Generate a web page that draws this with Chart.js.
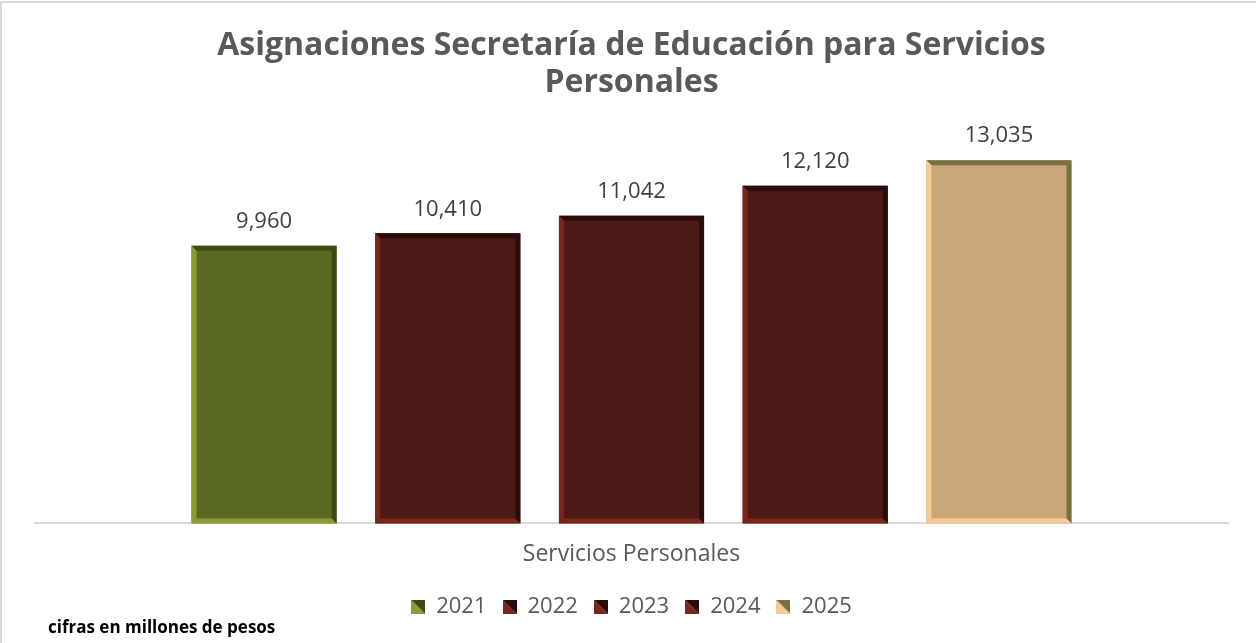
<!DOCTYPE html>
<html>
<head>
<meta charset="utf-8">
<script src="https://cdn.jsdelivr.net/npm/chart.js@4"></script>
<style>
    html, body { margin: 0; padding: 0; background: #fff; }
    #chart1 { display: block; }
</style>
</head>
<body>
<canvas id="chart1" width="1256" height="643"></canvas>
<script>

// Datos
const categories = ['Servicios Personales']
const years = ['2021', '2022', '2023', '2024', '2025']
const values = [9960, 10410, 11042, 12120, 13035]

// Colores (cara, borde claro, borde oscuro)
const faceColors = ['#5a6a25', '#4b1a16', '#4b1a16', '#4b1a16', '#c9a779']
const lightColors = ['#8c9a32', '#7c2519', '#7c2519', '#7c2519', '#f7c994']
const darkColors = ['#3a4c16', '#2a0c0a', '#2a0c0a', '#2a0c0a', '#7a703f']


// Cuadrito de la leyenda partido en diagonal
const makeSwatch = i => {
    const c = document.createElement('canvas')
    c.width = 14
    c.height = 14
    const ctx = c.getContext('2d')
    ctx.fillStyle = lightColors[i]
    ctx.beginPath()
    ctx.moveTo(0, 0); ctx.lineTo(14, 14); ctx.lineTo(0, 14); ctx.closePath()
    ctx.fill()
    ctx.fillStyle = darkColors[i]
    ctx.beginPath()
    ctx.moveTo(0, 0); ctx.lineTo(14, 0); ctx.lineTo(14, 14); ctx.closePath()
    ctx.fill()
    return c
}


// Bisel de cada barra
const bevelPlugin = {
    id: 'bevel',
    afterDatasetsDraw(chart) {
        const ctx = chart.ctx
        const t = 5
        chart.data.datasets.forEach((ds, i) => {
            chart.getDatasetMeta(i).data.forEach(bar => {
                const { x, y, base, width } = bar.getProps(['x', 'y', 'base', 'width'], true)
                const l = x - width / 2, r = x + width / 2
                const quad = (pts, color) => {
                    ctx.fillStyle = color
                    ctx.beginPath()
                    ctx.moveTo(pts[0][0], pts[0][1])
                    pts.slice(1).forEach(p => ctx.lineTo(p[0], p[1]))
                    ctx.closePath()
                    ctx.fill()
                }
                ctx.save()
                quad([[l, y], [r, y], [r - t, y + t], [l + t, y + t]], darkColors[i])
                quad([[r, y], [r, base], [r - t, base - t], [r - t, y + t]], darkColors[i])
                quad([[l, y], [l + t, y + t], [l + t, base - t], [l, base]], lightColors[i])
                quad([[l, base], [r, base], [r - t, base - t], [l + t, base - t]], lightColors[i])
                ctx.restore()
            })
        })
    }
}


// Etiquetas de valor, nota al pie y marco
const labelsPlugin = {
    id: 'valueLabels',
    afterDraw(chart) {
        const ctx = chart.ctx
        ctx.save()
        ctx.font = '22px "Open Sans"'
        ctx.fillStyle = '#404040'
        ctx.textAlign = 'center'
        ctx.textBaseline = 'bottom'
        chart.data.datasets.forEach((ds, i) => {
            chart.getDatasetMeta(i).data.forEach((bar, j) => {
                ctx.fillText(ds.data[j].toLocaleString('en-US'), bar.x, bar.y - 13)
            })
        })

        ctx.font = 'bold 17px "Open Sans"'
        ctx.fillStyle = '#000'
        ctx.textAlign = 'left'
        ctx.textBaseline = 'middle'
        ctx.fillText('cifras en millones de pesos', 48, 628)

        ctx.strokeStyle = '#d9d9d9'
        ctx.lineWidth = 2
        ctx.beginPath()
        ctx.moveTo(1, 643)
        ctx.lineTo(1, 2)
        ctx.lineTo(1256, 2)
        ctx.stroke()
        ctx.restore()
    }
}


const drawChart = () => {

    const data = {
        labels: categories,
        datasets: years.map((year, i) => ({
            label: year,
            data: [values[i]],
            backgroundColor: faceColors[i],
            borderWidth: 0
        }))
    }

    const options = {
        responsive: false,
        animation: false,
        layout: {
            padding: { left: 35, right: 28, bottom: 15 }
        },
        categoryPercentage: 0.77,
        barPercentage: 0.79,
        scales: {
            x: {
                grid: { display: false },
                border: { display: true, color: '#d9d9d9', width: 2 },
                ticks: { color: '#595959', font: { family: 'Open Sans', size: 23 }, padding: 9 },
                afterFit: axis => { axis.height += 3 }
            },
            y: {
                display: false,
                min: 0,
                max: 14000
            }
        },
        plugins: {
            title: {
                display: true,
                text: ['Asignaciones Secretaría de Educación para Servicios', 'Personales'],
                color: '#595959',
                font: { family: 'Open Sans', size: 32, weight: 'bold', lineHeight: 1.16 },
                padding: { top: 27, bottom: 32 }
            },
            legend: {
                display: true,
                position: 'bottom',
                labels: {
                    color: '#595959',
                    font: { family: 'Open Sans', size: 22 },
                    usePointStyle: true,
                    boxWidth: 14,
                    boxHeight: 14,
                    padding: 16,
                    generateLabels: chart => {
                        const items = Chart.defaults.plugins.legend.labels.generateLabels(chart)
                        items.forEach((item, i) => { item.pointStyle = makeSwatch(i) })
                        return items
                    }
                }
            },
            tooltip: { enabled: false }
        }
    }

    new Chart('chart1', {
        type: 'bar',
        data,
        options,
        plugins: [bevelPlugin, labelsPlugin]
    })
}


drawChart()
</script>
</body>
</html>
